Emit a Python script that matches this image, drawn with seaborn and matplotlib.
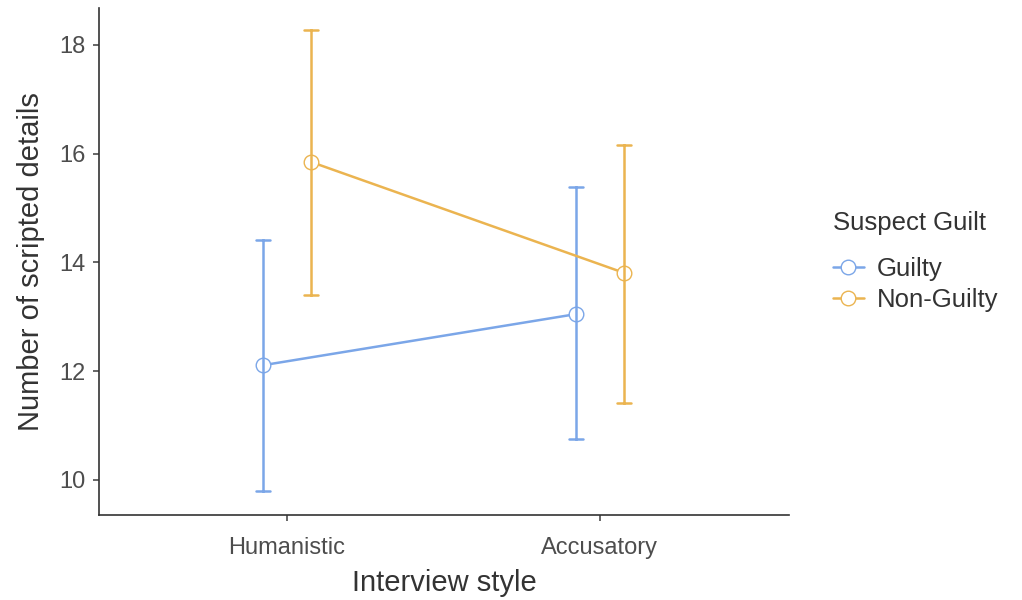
import numpy as np
import pandas as pd
import matplotlib
matplotlib.use("Agg")
import matplotlib.pyplot as plt
import seaborn as sns

styles = ["Humanistic", "Accusatory"]
groups = ["Guilty", "Non-Guilty"]
guilty_mean = [12.11, 13.05]
guilty_low = [9.80, 10.75]
guilty_high = [14.41, 15.39]
nonguilty_mean = [15.85, 13.81]
nonguilty_low = [13.40, 11.42]
nonguilty_high = [18.28, 16.16]

rows = []
for g, m, lo, hi in [("Guilty", guilty_mean, guilty_low, guilty_high),
                     ("Non-Guilty", nonguilty_mean, nonguilty_low, nonguilty_high)]:
    for s, mm, ll, hh in zip(styles, m, lo, hi):
        for v in (ll, mm, hh):
            rows.append({"style": s, "guilt": g, "value": v})
df = pd.DataFrame(rows)

sns.set_theme(style="ticks")
plt.rcParams['font.family'] = ['Liberation Sans', 'DejaVu Sans']

palette = {"Guilty": "#7BA6E8", "Non-Guilty": "#EBB450"}

fig = plt.figure(figsize=(10.22, 6.0), dpi=100)
ax = fig.add_axes([0.0969, 0.1417, 0.6751, 0.845])

sns.pointplot(data=df, x="style", y="value", hue="guilt", order=styles, hue_order=groups,
              palette=palette, estimator=np.median,
              errorbar=lambda v: (np.min(v), np.max(v)),
              dodge=0.153, capsize=0.045, err_kws={"linewidth": 1.8},
              linewidth=1.8, markersize=10.5, markers="o", ax=ax)

for line in ax.lines:
    line.set_markerfacecolor("white")
    line.set_markeredgewidth(1.0)
    line.set_zorder(3)
for coll in ax.collections:
    coll.set_facecolor("white")
    coll.set_zorder(4)

ax.set_xlim(-0.60, 1.604)
ax.set_ylim(9.356, 18.68)
ax.set_yticks([10, 12, 14, 16, 18])
ax.set_xlabel("Interview style", fontsize=21, color="#333333", labelpad=7)
ax.set_ylabel("Number of scripted details", fontsize=21, color="#333333", labelpad=10)
ax.tick_params(axis="both", labelsize=17, colors="#4d4d4d", length=4, width=1.2)
ax.tick_params(axis="x", pad=12)
ax.tick_params(axis="y", pad=6)
for sp in ["top", "right"]:
    ax.spines[sp].set_visible(False)
for sp in ["left", "bottom"]:
    ax.spines[sp].set_color("#333333")
    ax.spines[sp].set_linewidth(1.2)

handles, labels = ax.get_legend_handles_labels()
for h in handles:
    try:
        h.set_markerfacecolor("white")
    except Exception:
        pass
leg = ax.legend(handles, labels, title="Suspect Guilt", loc="center left",
                bbox_to_anchor=(1.03, 0.5), frameon=False, fontsize=18.5,
                title_fontsize=18.5, handlelength=1.2, handletextpad=0.5,
                labelspacing=0.25)
leg._legend_box.align = "left"
leg._legend_box.sep = 16
leg.get_title().set_color("#333333")
for t in leg.get_texts():
    t.set_color("#333333")

fig.savefig("out.png", dpi=100)
